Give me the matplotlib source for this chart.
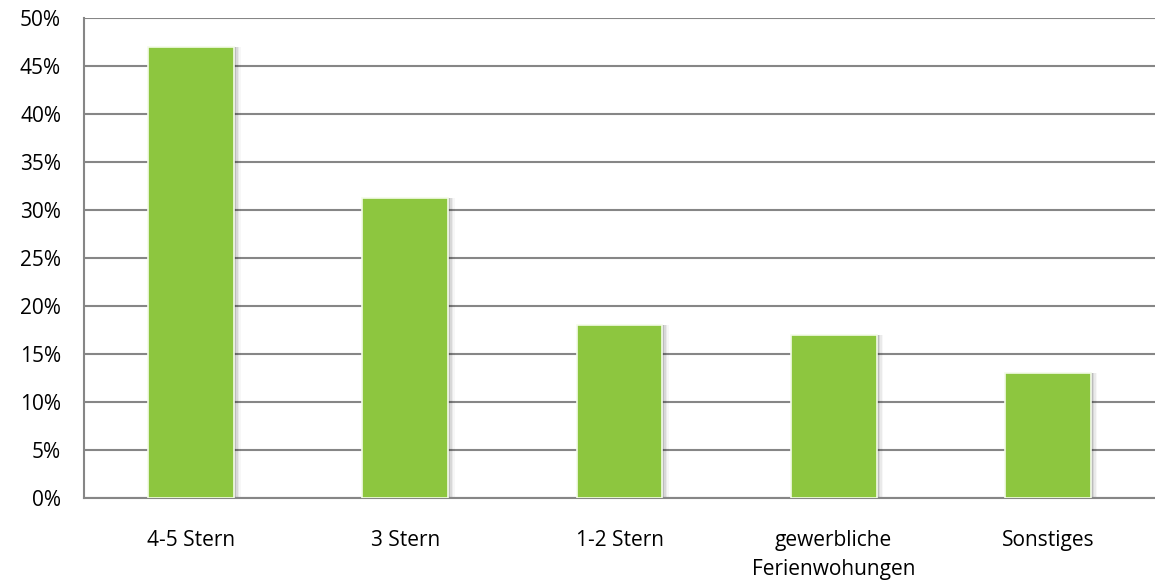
import numpy as np
import matplotlib
matplotlib.use("Agg")
import matplotlib.pyplot as plt
from matplotlib.ticker import FuncFormatter

categories = ["4-5 Stern", "3 Stern", "1-2 Stern", "gewerbliche\nFerienwohungen", "Sonstiges"]
shares = [47.0, 31.3, 18.0, 17.0, 13.0]

plt.rcParams['font.family'] = ['Open Sans', 'DejaVu Sans']

fig = plt.figure(figsize=(11.55, 5.8), dpi=100)
ax = fig.add_axes([84/1155, 82/580, 1 - 84/1155, 480/580])

x = np.arange(len(categories))
w = 0.4
grey = '#868686'

# soft drop shadow behind each bar
for k, a in enumerate([0.12, 0.08, 0.05, 0.03]):
    ax.bar(x + 0.010 + k*0.007, shares, width=w, color='black', alpha=a,
           zorder=2, linewidth=0)
ax.bar(x, shares, width=w, color='#8DC63F', edgecolor='#f4fbe9', linewidth=1.2, zorder=3)

ax.set_xlim(-0.5, len(categories) - 0.5)
ax.set_ylim(0, 50)
ax.set_yticks(np.arange(0, 51, 5))
ax.yaxis.set_major_formatter(FuncFormatter(lambda v, p: f"{v:.0f}%"))
ax.yaxis.grid(True, color=grey, linewidth=1.5, zorder=1)
ax.set_axisbelow(True)

ax.set_xticks(x)
ax.set_xticklabels(categories, fontsize=15, linespacing=1.5)
ax.tick_params(axis='x', length=0, pad=23)
ax.tick_params(axis='y', length=0, pad=16.5, labelsize=15)

for s in ['top', 'right']:
    ax.spines[s].set_visible(False)
for s in ['left', 'bottom']:
    ax.spines[s].set_color(grey)
    ax.spines[s].set_linewidth(1.5)

fig.savefig("out.png", dpi=100)
